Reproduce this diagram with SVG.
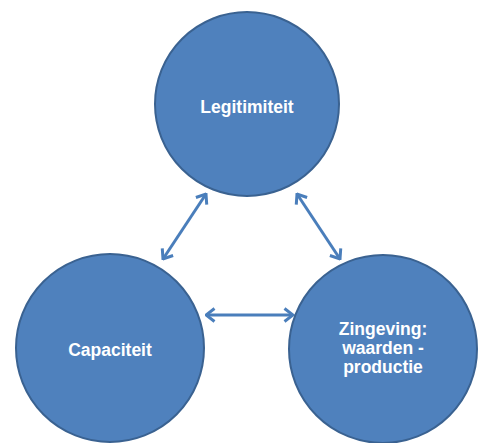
<svg xmlns="http://www.w3.org/2000/svg" width="479" height="443" viewBox="0 0 479 443">
  <style>
    .node { fill: #4F81BD; stroke: #3A6291; stroke-width: 2; }
    .label { fill: #FFFFFF; font-family: "Liberation Sans", Arial, sans-serif; font-size: 17.5px; font-weight: bold; text-anchor: middle; }
    .link { stroke: #4A7EBB; stroke-width: 3; fill: none; marker-start: url(#chev); marker-end: url(#chev); }
  </style>
  <defs>
    <marker id="chev" markerUnits="userSpaceOnUse" viewBox="0 0 12 16" refX="10.5" refY="8" markerWidth="12" markerHeight="16" orient="auto-start-reverse">
      <path d="M2 1.5 L10.5 8 L2 14.5" fill="none" stroke="#4A7EBB" stroke-width="3" stroke-linejoin="miter"/>
    </marker>
  </defs>
  <rect width="479" height="443" fill="#FFFFFF"/>

  <g id="connectors">
    <line class="link" x1="206" y1="194" x2="163" y2="259"/>
    <line class="link" x1="297" y1="194" x2="340" y2="259"/>
    <line class="link" x1="206" y1="315" x2="293" y2="315"/>
  </g>

  <g id="legitimiteit">
    <circle class="node" cx="247" cy="104" r="92"/>
    <text class="label" x="247" y="113">Legitimiteit</text>
  </g>

  <g id="capaciteit">
    <circle class="node" cx="110" cy="348" r="94"/>
    <text class="label" x="110" y="356">Capaciteit</text>
  </g>

  <g id="zingeving">
    <circle class="node" cx="383" cy="349" r="94"/>
    <text class="label" x="383" y="335">Zingeving:</text>
    <text class="label" x="383" y="354">waarden -</text>
    <text class="label" x="383" y="373">productie</text>
  </g>
</svg>
